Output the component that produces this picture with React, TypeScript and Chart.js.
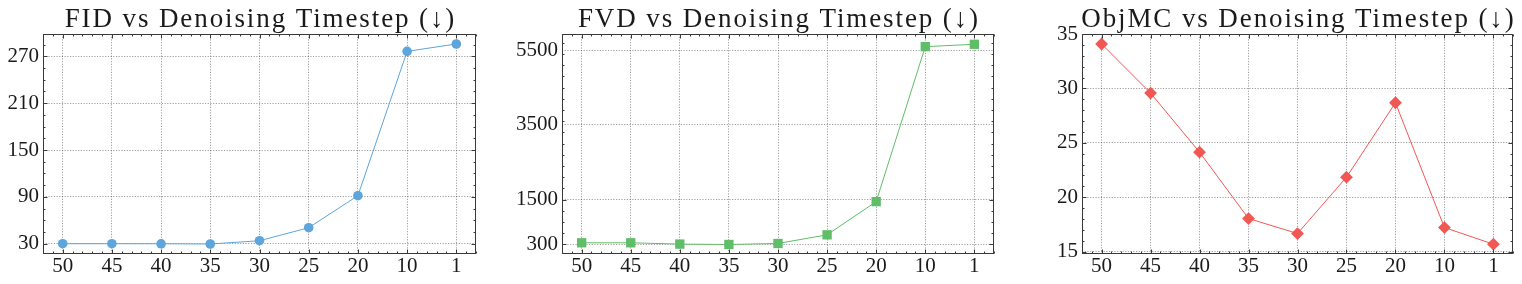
import React, { useEffect, useRef } from 'react';
import { Chart, registerables } from 'chart.js';
Chart.register(...registerables);

const categories = ['50', '45', '40', '35', '30', '25', '20', '10', '1'];
const fidValues = [30.0, 30.0, 29.9, 29.6, 33.8, 50.5, 91.5, 276.4, 285.8];
const fvdValues = [345, 345, 310, 300, 327, 558, 1447, 5596, 5660];
const objmcValues = [34.08, 29.57, 24.14, 18.04, 16.66, 21.84, 28.68, 17.21, 15.68];
const fidTicks = [30, 90, 150, 210, 270];
const fvdTicks = [300, 1500, 3500, 5500];
const objmcTicks = [15, 20, 25, 30, 35];
const titles = [
  'FID vs Denoising Timestep (↓)',
  'FVD vs Denoising Timestep (↓)',
  'ObjMC vs Denoising Timestep (↓)',
];

const FONT = "'Liberation Serif', 'DejaVu Serif', serif";

type PanelSpec = {
  title: string;
  values: number[];
  yTicks: number[];
  yMin: number;
  yMax: number;
  yMinorStep: number;
  color: string;
  pointStyle: string;
  pointRadius: number;
  left: number;
  width: number;
  yAxisWidth: number;
  padRight: number;
};

// Title centred over the plotting area (like matplotlib's axes title)
const panelTitle = {
  id: 'panelTitle',
  afterDraw(chart: any, _args: any, opts: any) {
    const ctx = chart.ctx;
    const a = chart.chartArea;
    ctx.save();
    ctx.font = `normal ${opts.size}px ${FONT}`;
    (ctx as any).letterSpacing = `${opts.spacing}px`;
    ctx.fillStyle = opts.color;
    ctx.textAlign = 'center';
    ctx.textBaseline = 'alphabetic';
    ctx.fillText(opts.text, (a.left + a.right) / 2 + opts.spacing / 2, opts.baseline);
    ctx.restore();
  },
};

const sciFrame = {
  id: 'sciFrame',
  afterDraw(chart: any, _args: any, opts: any) {
    const ctx = chart.ctx;
    const a = chart.chartArea;
    const xs = chart.scales.x;
    const ys = chart.scales.y;
    const L = Math.round(a.left) + 0.5;
    const R = Math.round(a.right) - 0.5;
    const T = Math.round(a.top) + 0.5;
    const B = Math.round(a.bottom) - 0.5;
    ctx.save();
    ctx.strokeStyle = '#3a3a3a';
    ctx.lineWidth = 1;
    ctx.setLineDash([]);
    ctx.strokeRect(L, T, R - L, B - T);
    const major = 4;
    const minor = 2;
    ctx.beginPath();
    for (let k = -2; k <= 42; k++) {
      const v = k / 5;
      if (v < xs.min - 1e-9 || v > xs.max + 1e-9) continue;
      const len = k % 5 === 0 ? major : minor;
      const px = Math.round(xs.getPixelForValue(v)) + 0.5;
      ctx.moveTo(px, B);
      ctx.lineTo(px, B - len);
      ctx.moveTo(px, T);
      ctx.lineTo(px, T + len);
    }
    const step = opts.yMinorStep;
    const base = opts.yMajor[0];
    const kStart = Math.ceil((ys.min - base) / step - 1e-9);
    const kEnd = Math.floor((ys.max - base) / step + 1e-9);
    for (let k = kStart; k <= kEnd; k++) {
      const v = base + k * step;
      const isMajor = opts.yMajor.some((m: number) => Math.abs(m - v) < step * 1e-3);
      const len = isMajor ? major : minor;
      const py = Math.round(ys.getPixelForValue(v)) + 0.5;
      ctx.moveTo(L, py);
      ctx.lineTo(L + len, py);
      ctx.moveTo(R, py);
      ctx.lineTo(R - len, py);
    }
    ctx.stroke();
    ctx.restore();
  },
};

function Panel({ spec }: { spec: PanelSpec }) {
  const ref = useRef<HTMLCanvasElement | null>(null);
  useEffect(() => {
    if (!ref.current) return;
    const chart = new Chart(ref.current, {
      type: 'line',
      data: {
        datasets: [
          {
            data: spec.values.map((v, i) => ({ x: i, y: v })),
            borderColor: spec.color,
            backgroundColor: spec.color,
            borderWidth: 1,
            pointStyle: spec.pointStyle as any,
            pointRadius: spec.pointRadius,
            pointBorderWidth: 0,
            pointBackgroundColor: spec.color,
            tension: 0,
          },
        ],
      },
      options: {
        responsive: false,
        animation: false,
        devicePixelRatio: 1,
        layout: { padding: { left: 0, right: spec.padRight, top: 34, bottom: 0 } },
        plugins: {
          legend: { display: false },
          tooltip: { enabled: false },
          title: { display: false },
          panelTitle: { text: spec.title, size: 27, spacing: 1.9, color: '#1a1a1a', baseline: 27 },
          sciFrame: { yMinorStep: spec.yMinorStep, yMajor: spec.yTicks },
        } as any,
        scales: {
          x: {
            type: 'linear',
            min: -0.4,
            max: 8.4,
            afterBuildTicks: (s: any) => {
              s.ticks = categories.map((_, i) => ({ value: i }));
            },
            afterFit: (s: any) => {
              s.height = 30;
            },
            ticks: {
              callback: (v: any) => categories[Math.round(Number(v))] ?? '',
              font: { family: FONT, size: 21 },
              color: '#1a1a1a',
              padding: 0,
              maxRotation: 0,
              autoSkip: false,
            },
            grid: { color: 'rgba(50,50,50,0.6)', lineWidth: 0.8, drawTicks: false },
            border: { display: false, dash: [1.2, 1.5] },
          },
          y: {
            type: 'linear',
            min: spec.yMin,
            max: spec.yMax,
            afterBuildTicks: (s: any) => {
              s.ticks = spec.yTicks.map((v) => ({ value: v }));
            },
            afterFit: (s: any) => {
              s.width = spec.yAxisWidth;
            },
            ticks: {
              font: { family: FONT, size: 21 },
              color: '#1a1a1a',
              padding: 4,
              autoSkip: false,
              callback: (v: any) => String(v),
            },
            grid: { color: 'rgba(50,50,50,0.6)', lineWidth: 0.8, drawTicks: false },
            border: { display: false, dash: [1.2, 1.5] },
          },
        },
      },
      plugins: [sciFrame as any, panelTitle as any],
    });
    return () => chart.destroy();
  }, [spec]);
  return (
    <canvas
      ref={ref}
      width={spec.width}
      height={284}
      style={{ position: 'absolute', left: spec.left, top: 0, width: spec.width, height: 284 }}
    />
  );
}

const panels: PanelSpec[] = [
  {
    title: titles[0],
    values: fidValues,
    yTicks: fidTicks,
    yMin: 16.8,
    yMax: 298.6,
    yMinorStep: 15,
    color: '#5DA5DA',
    pointStyle: 'circle',
    pointRadius: 4.8,
    left: 0,
    width: 490,
    yAxisWidth: 43,
    padRight: 14,
  },
  {
    title: titles[1],
    values: fvdValues,
    yTicks: fvdTicks,
    yMin: 45,
    yMax: 5935,
    yMinorStep: 300,
    color: '#60BD68',
    pointStyle: 'rect',
    pointRadius: 6.6,
    left: 500,
    width: 510,
    yAxisWidth: 62,
    padRight: 16,
  },
  {
    title: titles[2],
    values: objmcValues,
    yTicks: objmcTicks,
    yMin: 14.78,
    yMax: 35.0,
    yMinorStep: 1,
    color: '#F15854',
    pointStyle: 'rectRot',
    pointRadius: 6.4,
    left: 1010,
    width: 512,
    yAxisWidth: 72,
    padRight: 9,
  },
];

export default function App() {
  return (
    <div style={{ position: 'absolute', left: 0, top: 0, width: 1522, height: 284, background: '#fff' }}>
      {panels.map((p, i) => (
        <Panel key={i} spec={p} />
      ))}
    </div>
  );
}
